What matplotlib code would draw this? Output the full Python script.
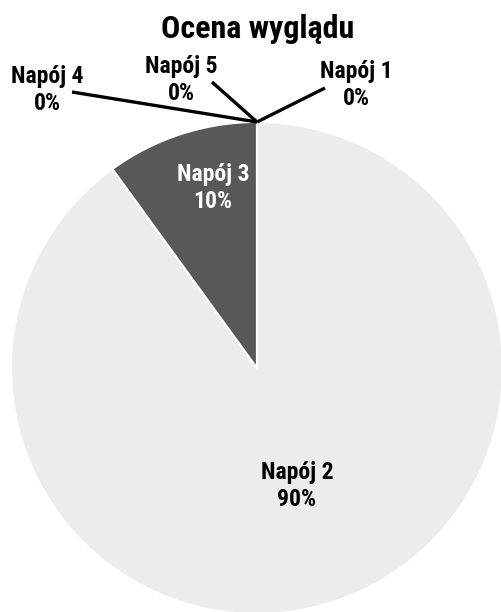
import matplotlib.pyplot as plt
from matplotlib import font_manager as fm

names = ['Napój 1', 'Napój 2', 'Napój 3', 'Napój 4', 'Napój 5']
values = [0, 90, 10, 0, 0]
colors = ['#ebeceb', '#ebeceb', '#58585a', '#58585a', '#58585a']

avail = set(f.name for f in fm.fontManager.ttflist)
fam = [f for f in ['Roboto Condensed', 'Liberation Sans Narrow', 'DejaVu Sans Condensed'] if f in avail]
plt.rcParams['font.family'] = fam + ['DejaVu Sans']

W, H = 502, 612
fig = plt.figure(figsize=(W / 100, H / 100), dpi=100)
ax = fig.add_axes([0, 0, 1, 1])

cx, cy, r = 257, H - 368, 246
ax.pie(values, colors=colors, startangle=90, counterclock=False,
       center=(cx, cy), radius=r, frame=True,
       wedgeprops=dict(edgecolor='white', linewidth=1.5))
ax.set_xlim(0, W)
ax.set_ylim(0, H)
ax.set_aspect('equal')
ax.axis('off')

ax.text(258, H - 29, 'Ocena wyglądu', ha='center', va='center',
        fontsize=23, fontweight='heavy')

top = (cx, cy + r)
# label centre (x, y in pixels from top) and leader line start
lab = {'Napój 4': ((47, 90), (72, 92)),
       'Napój 5': ((181, 80), (212, 82)),
       'Napój 1': ((356, 85), (325, 88))}
kw = dict(ha='center', va='center', fontsize=17, fontweight='heavy',
          linespacing=1.25)
for n, v in zip(names, values):
    if v == 0:
        (lx, ly), (sx, sy) = lab[n]
        ax.text(lx, H - ly, f'{n}\n{v}%', **kw)
        ax.plot([sx, top[0]], [H - sy, top[1]], color='black', lw=2.4,
                solid_capstyle='butt')

ax.text(213, H - 188, f'{names[2]}\n{values[2]}%', color='white', **kw)
ax.text(297, H - 486, f'{names[1]}\n{values[1]}%', color='black', **kw)

fig.savefig('out.png', dpi=100)
